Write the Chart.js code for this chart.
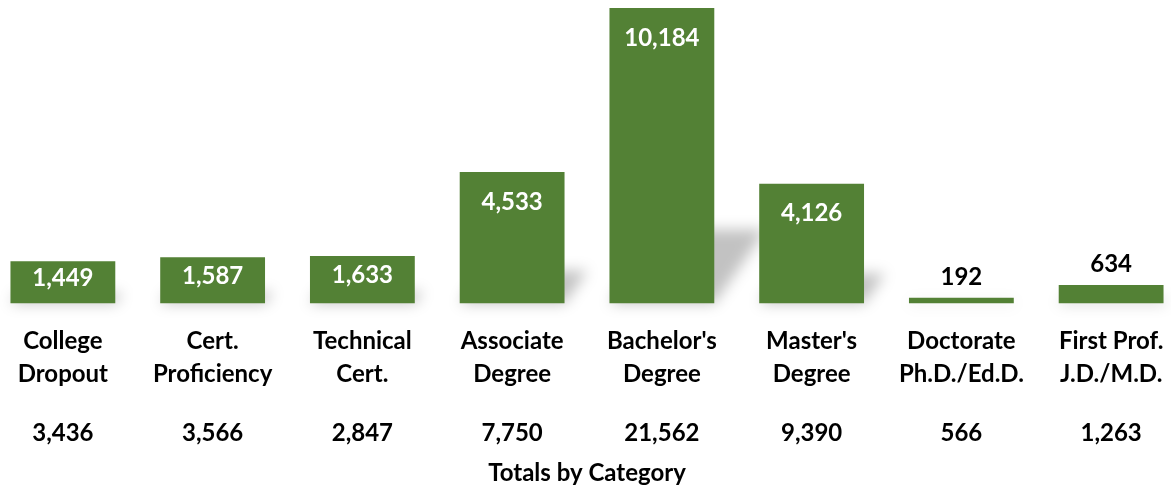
<!DOCTYPE html>
<html>
<head>
<meta charset="utf-8">
<script src="https://cdn.jsdelivr.net/npm/chart.js@4/dist/chart.umd.min.js"></script>
<style>
  html, body { margin: 0; padding: 0; background: #fff; overflow: hidden; }
  #wrap { position: absolute; left: -12px; top: 0; width: 1198px; height: 488px; }
</style>
</head>
<body>
<div id="wrap"><canvas id="chart"></canvas></div>
<script>
var categories = [
    ['College', 'Dropout'],
    ['Cert.', 'Proficiency'],
    ['Technical', 'Cert.'],
    ['Associate', 'Degree'],
    ["Bachelor's", 'Degree'],
    ["Master's", 'Degree'],
    ['Doctorate', 'Ph.D./Ed.D.'],
    ['First Prof.', 'J.D./M.D.'],
];
var values = [1449, 1587, 1633, 4533, 10184, 4126, 192, 634];
var totals = [3436, 3566, 2847, 7750, 21562, 9390, 566, 1263];
var totalsTitle = 'Totals by Category';

var green = '#538135';
var fontFamily = 'Lato, "Open Sans", sans-serif';

function fmt(v) {
    return v.toLocaleString('en-US');
}

// soft perspective shadow behind each bar
var barShadow = {
    id: 'barShadow',
    beforeDatasetsDraw: function (chart) {
        var ctx = chart.ctx;
        var meta = chart.getDatasetMeta(0);
        ctx.save();
        ctx.filter = 'blur(7px)';
        ctx.fillStyle = 'rgba(0,0,0,0.24)';
        meta.data.forEach(function (bar) {
            var p = bar.getProps(['x', 'y', 'base', 'width'], true);
            var h = p.base - p.y;
            var sh = h * 0.25;
            var dx = sh * 0.7;
            var l = p.x - p.width / 2, r = p.x + p.width / 2;
            ctx.beginPath();
            ctx.moveTo(l, p.base);
            ctx.lineTo(r, p.base);
            ctx.lineTo(r + dx, p.base - sh);
            ctx.lineTo(l + dx, p.base - sh);
            ctx.closePath();
            ctx.fill();
        });
        ctx.restore();
    }
};

// value labels: inside the bar in white, above it in black when the bar is thin
var valueLabels = {
    id: 'valueLabels',
    afterDatasetsDraw: function (chart) {
        var ctx = chart.ctx;
        var meta = chart.getDatasetMeta(0);
        ctx.save();
        ctx.font = 'bold 24px ' + fontFamily;
        ctx.textAlign = 'center';
        ctx.textBaseline = 'middle';
        meta.data.forEach(function (bar, i) {
            var p = bar.getProps(['x', 'y', 'base'], true);
            var h = p.base - p.y;
            if (h > 30) {
                ctx.fillStyle = '#ffffff';
                ctx.fillText(fmt(values[i]), p.x, p.y + Math.min(30, h / 2 - 4));
            } else {
                ctx.fillStyle = '#000000';
                ctx.fillText(fmt(values[i]), p.x, p.y - 21);
            }
        });
        ctx.restore();
    }
};

new Chart(document.getElementById('chart'), {
    type: 'bar',
    data: {
        labels: categories,
        datasets: [{
            data: values,
            backgroundColor: green,
            borderWidth: 0,
            categoryPercentage: 1.0,
            barPercentage: 0.7,
        }]
    },
    options: {
        responsive: true,
        maintainAspectRatio: false,
        animation: false,
        layout: { padding: 0 },
        plugins: {
            legend: { display: false },
            tooltip: { enabled: false },
        },
        scales: {
            y: {
                display: false,
                min: 0,
                max: 10460,
            },
            x: {
                position: 'bottom',
                weight: 0,
                grid: { display: false, drawTicks: false },
                border: { display: false },
                ticks: {
                    color: '#000',
                    padding: 21.5,
                    maxRotation: 0,
                    autoSkip: false,
                    font: { family: fontFamily, size: 24, weight: 'bold', lineHeight: '33px' },
                },
            },
            x2: {
                type: 'category',
                labels: totals.map(fmt),
                position: 'bottom',
                weight: 1,
                offset: true,
                grid: { display: false, drawTicks: false },
                border: { display: false },
                ticks: {
                    color: '#000',
                    padding: 6,
                    maxRotation: 0,
                    autoSkip: false,
                    font: { family: fontFamily, size: 24, weight: 'bold', lineHeight: 1.2 },
                },
                title: {
                    display: true,
                    text: totalsTitle,
                    color: '#000',
                    padding: { top: 6, bottom: 0 },
                    font: { family: fontFamily, size: 24, weight: 'bold', lineHeight: 1.2 },
                },
            },
        },
    },
    plugins: [barShadow, valueLabels],
});
</script>
</body>
</html>
